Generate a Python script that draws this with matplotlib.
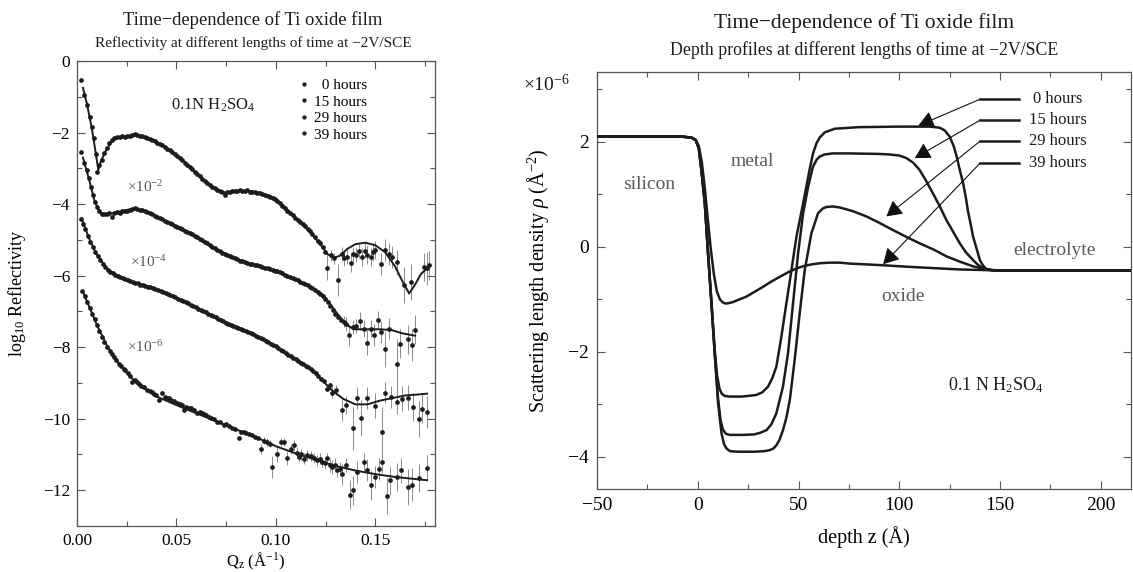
import matplotlib
matplotlib.use("Agg")
import matplotlib.pyplot as plt
from matplotlib.ticker import MultipleLocator, FormatStrFormatter

plt.rcParams['font.family'] = ['Liberation Serif', 'DejaVu Serif']
plt.rcParams['mathtext.fontset'] = 'custom'
plt.rcParams['mathtext.rm'] = 'Liberation Serif'
plt.rcParams['mathtext.it'] = 'Liberation Serif:italic'
plt.rcParams['mathtext.bf'] = 'Liberation Serif:bold'

# ---------------- Left panel data: log10 reflectivity vs Qz ----------------
series_labels = ["  0 hours", "15 hours", "29 hours", "39 hours"]
offset_labels = ["", r"$\times$10$^{-2}$", r"$\times$10$^{-4}$", r"$\times$10$^{-6}$"]

q_0h = [0.0020, 0.0037, 0.0050, 0.0064, 0.0075, 0.0084, 0.0094, 0.0102, 0.0113, 0.0126,
        0.0138, 0.0151, 0.0163, 0.0176, 0.0188, 0.0201, 0.0214, 0.0226, 0.0239, 0.0252,
        0.0264, 0.0277, 0.0290, 0.0302, 0.0315, 0.0328, 0.0340, 0.0353, 0.0365, 0.0378,
        0.0391, 0.0403, 0.0416, 0.0428, 0.0441, 0.0454, 0.0466, 0.0479, 0.0491, 0.0504,
        0.0517, 0.0529, 0.0542, 0.0554, 0.0567, 0.0580, 0.0592, 0.0605, 0.0617, 0.0630,
        0.0643, 0.0655, 0.0668, 0.0680, 0.0693, 0.0706, 0.0718, 0.0731, 0.0743, 0.0756,
        0.0769, 0.0781, 0.0794, 0.0806, 0.0819, 0.0832, 0.0844, 0.0857, 0.0869, 0.0882,
        0.0895, 0.0907, 0.0920, 0.0932, 0.0945, 0.0958, 0.0970, 0.0983, 0.0995, 0.1008,
        0.1021, 0.1033, 0.1046, 0.1058, 0.1071, 0.1084, 0.1096, 0.1109, 0.1121, 0.1134,
        0.1147, 0.1159, 0.1172, 0.1184, 0.1197, 0.1210, 0.1222, 0.1235, 0.1248]
r_0h = [-0.53, -0.95, -1.22, -1.56, -1.85, -2.16, -2.60, -3.10, -2.92, -2.77,
        -2.58, -2.44, -2.30, -2.21, -2.16, -2.12, -2.13, -2.10, -2.12, -2.09,
        -2.11, -2.06, -2.04, -2.08, -2.10, -2.11, -2.13, -2.16, -2.18, -2.21,
        -2.23, -2.28, -2.31, -2.36, -2.41, -2.45, -2.50, -2.55, -2.60, -2.66,
        -2.72, -2.78, -2.85, -2.90, -2.96, -3.02, -3.10, -3.16, -3.22, -3.30,
        -3.36, -3.42, -3.47, -3.52, -3.56, -3.60, -3.63, -3.66, -3.75, -3.67,
        -3.66, -3.64, -3.63, -3.64, -3.62, -3.63, -3.64, -3.62, -3.65, -3.66,
        -3.67, -3.69, -3.70, -3.72, -3.74, -3.77, -3.80, -3.83, -3.87, -3.92,
        -3.98, -4.04, -4.10, -4.18, -4.25, -4.31, -4.38, -4.44, -4.50, -4.57,
        -4.62, -4.70, -4.76, -4.85, -4.92, -5.02, -5.10, -5.20, -5.35]
qe_0h = [0.1255, 0.1276, 0.1290, 0.1310, 0.1330, 0.1343, 0.1360, 0.1376, 0.1390, 0.1405,
         0.1420, 0.1435, 0.1450, 0.1460, 0.1477, 0.1490, 0.1500, 0.1530, 0.1550, 0.1570,
         0.1586, 0.1610, 0.1645, 0.1680, 0.1745, 0.1760, 0.1770]
re_0h = [-5.78, -5.43, -5.52, -6.13, -5.40, -5.52, -5.48, -5.65, -5.40, -5.41,
         -5.30, -5.48, -5.30, -5.43, -5.48, -5.35, -5.29, -5.68, -5.29, -5.40,
         -5.48, -5.62, -6.27, -6.17, -5.76, -5.80, -5.71]
ee_0h = [0.35, 0.15, 0.15, 0.45, 0.20, 0.20, 0.20, 0.25, 0.20, 0.20,
         0.20, 0.25, 0.20, 0.25, 0.25, 0.25, 0.25, 0.30, 0.30, 0.30,
         0.30, 0.35, 0.50, 0.50, 0.40, 0.45, 0.40]
qf_0h = [0.003, 0.005, 0.0075, 0.0095, 0.0107, 0.012, 0.015, 0.018, 0.022, 0.027, 0.032,
         0.038, 0.044, 0.050, 0.056, 0.062, 0.068, 0.074, 0.080, 0.086, 0.092, 0.098,
         0.104, 0.110, 0.116, 0.122, 0.126, 0.129, 0.132, 0.136, 0.140, 0.145, 0.150,
         0.155, 0.160, 0.164, 0.167, 0.170, 0.173, 0.176]
rf_0h = [-0.75, -1.20, -1.90, -2.60, -3.05, -2.80, -2.45, -2.22, -2.12, -2.08, -2.10,
         -2.22, -2.40, -2.62, -2.92, -3.25, -3.52, -3.68, -3.66, -3.63, -3.68, -3.80,
         -4.05, -4.40, -4.72, -5.10, -5.40, -5.50, -5.45, -5.25, -5.12, -5.08, -5.15,
         -5.35, -5.75, -6.20, -6.50, -6.25, -5.95, -5.80]

q_15h = [0.0020, 0.0037, 0.0048, 0.0059, 0.0070, 0.0080, 0.0090, 0.0100, 0.0113, 0.0126,
         0.0138, 0.0151, 0.0163, 0.0176, 0.0188, 0.0201, 0.0214, 0.0226, 0.0239, 0.0252,
         0.0264, 0.0277, 0.0290, 0.0302, 0.0315, 0.0328, 0.0340, 0.0353, 0.0365, 0.0378,
         0.0391, 0.0403, 0.0416, 0.0428, 0.0441, 0.0454, 0.0466, 0.0479, 0.0491, 0.0504,
         0.0517, 0.0529, 0.0542, 0.0554, 0.0567, 0.0580, 0.0592, 0.0605, 0.0617, 0.0630,
         0.0643, 0.0655, 0.0668, 0.0680, 0.0693, 0.0706, 0.0718, 0.0731, 0.0743, 0.0756,
         0.0769, 0.0781, 0.0794, 0.0806, 0.0819, 0.0832, 0.0844, 0.0857, 0.0869, 0.0882,
         0.0895, 0.0907, 0.0920, 0.0932, 0.0945, 0.0958, 0.0970, 0.0983, 0.0995, 0.1008,
         0.1021, 0.1033, 0.1046, 0.1058, 0.1071, 0.1084, 0.1096, 0.1109, 0.1121, 0.1134,
         0.1147, 0.1159, 0.1172, 0.1184, 0.1197, 0.1210, 0.1222, 0.1235, 0.1248, 0.1260,
         0.1272, 0.1285, 0.1297, 0.1310, 0.1325]
r_15h = [-2.54, -2.86, -3.05, -3.28, -3.52, -3.75, -3.93, -4.07, -4.20, -4.29,
         -4.27, -4.29, -4.26, -4.36, -4.25, -4.23, -4.24, -4.20, -4.20, -4.18,
         -4.17, -4.15, -4.10, -4.15, -4.17, -4.16, -4.20, -4.23, -4.26, -4.29,
         -4.32, -4.36, -4.39, -4.42, -4.46, -4.49, -4.52, -4.56, -4.60, -4.63,
         -4.67, -4.71, -4.74, -4.78, -4.81, -4.85, -4.88, -4.93, -4.97, -5.01,
         -5.05, -5.10, -5.14, -5.19, -5.24, -5.29, -5.32, -5.36, -5.40, -5.43,
         -5.46, -5.49, -5.51, -5.54, -5.58, -5.60, -5.63, -5.66, -5.67, -5.68,
         -5.70, -5.71, -5.74, -5.76, -5.78, -5.80, -5.82, -5.84, -5.86, -5.88,
         -5.91, -5.94, -5.97, -6.00, -6.03, -6.07, -6.10, -6.13, -6.17, -6.20,
         -6.24, -6.27, -6.31, -6.35, -6.40, -6.45, -6.52, -6.58, -6.64, -6.75,
         -6.85, -6.97, -7.08, -7.15, -7.25]
qe_15h = [0.1343, 0.1355, 0.1368, 0.1390, 0.1405, 0.1423, 0.1443, 0.1460, 0.1477, 0.1494,
          0.1514, 0.1530, 0.1550, 0.1570, 0.1608, 0.1625, 0.1665, 0.1683, 0.1700]
re_15h = [-7.29, -7.35, -7.66, -7.43, -7.40, -7.27, -7.48, -7.87, -7.48, -7.66,
          -7.25, -7.57, -8.06, -7.48, -8.46, -7.90, -7.78, -7.95, -7.51]
ee_15h = [0.15, 0.20, 0.30, 0.20, 0.20, 0.25, 0.25, 0.35, 0.25, 0.30,
          0.25, 0.30, 0.50, 0.30, 0.70, 0.40, 0.40, 0.45, 0.40]
qf_15h = [0.003, 0.006, 0.009, 0.012, 0.016, 0.022, 0.028, 0.033, 0.040, 0.050, 0.060,
          0.070, 0.080, 0.090, 0.100, 0.110, 0.118, 0.124, 0.130, 0.135, 0.139, 0.145,
          0.152, 0.158, 0.164, 0.170]
rf_15h = [-2.70, -3.30, -3.95, -4.27, -4.28, -4.20, -4.13, -4.17, -4.34, -4.62, -4.93,
          -5.27, -5.53, -5.72, -5.88, -6.12, -6.33, -6.55, -7.00, -7.35, -7.50, -7.50,
          -7.50, -7.52, -7.62, -7.68]

q_29h = [0.0020, 0.0030, 0.0042, 0.0055, 0.0067, 0.0080, 0.0092, 0.0105, 0.0117, 0.0130,
         0.0143, 0.0155, 0.0168, 0.0180, 0.0193, 0.0205, 0.0218, 0.0231, 0.0243, 0.0256,
         0.0268, 0.0281, 0.0294, 0.0306, 0.0319, 0.0331, 0.0344, 0.0356, 0.0369, 0.0382,
         0.0394, 0.0407, 0.0420, 0.0432, 0.0445, 0.0457, 0.0470, 0.0483, 0.0495, 0.0508,
         0.0521, 0.0533, 0.0546, 0.0558, 0.0571, 0.0584, 0.0596, 0.0609, 0.0621, 0.0634,
         0.0647, 0.0659, 0.0672, 0.0684, 0.0697, 0.0710, 0.0722, 0.0735, 0.0747, 0.0760,
         0.0772, 0.0785, 0.0798, 0.0810, 0.0823, 0.0835, 0.0848, 0.0861, 0.0873, 0.0886,
         0.0898, 0.0911, 0.0924, 0.0936, 0.0949, 0.0961, 0.0974, 0.0987, 0.0999, 0.1012,
         0.1024, 0.1037, 0.1050, 0.1062, 0.1075, 0.1088, 0.1100, 0.1113, 0.1125, 0.1138,
         0.1151, 0.1163, 0.1176, 0.1188, 0.1201, 0.1214, 0.1226, 0.1240, 0.1259, 0.1272]
r_29h = [-4.42, -4.55, -4.69, -4.88, -5.05, -5.20, -5.33, -5.46, -5.57, -5.67,
         -5.75, -5.83, -5.89, -5.94, -5.98, -6.01, -6.03, -6.07, -6.10, -6.13,
         -6.15, -6.17, -6.20, -6.22, -6.25, -6.27, -6.29, -6.31, -6.32, -6.35,
         -6.37, -6.40, -6.43, -6.45, -6.48, -6.50, -6.54, -6.57, -6.61, -6.64,
         -6.67, -6.70, -6.73, -6.77, -6.83, -6.85, -6.88, -6.92, -6.96, -7.00,
         -7.03, -7.07, -7.10, -7.14, -7.17, -7.21, -7.25, -7.28, -7.32, -7.35,
         -7.37, -7.41, -7.43, -7.46, -7.49, -7.52, -7.55, -7.58, -7.61, -7.64,
         -7.68, -7.71, -7.75, -7.78, -7.82, -7.86, -7.90, -7.94, -7.98, -8.03,
         -8.07, -8.12, -8.16, -8.21, -8.26, -8.30, -8.34, -8.39, -8.43, -8.48,
         -8.52, -8.56, -8.60, -8.66, -8.72, -8.80, -8.88, -8.95, -9.16, -9.05]
qe_29h = [0.1284, 0.1300, 0.1334, 0.1351, 0.1390, 0.1406, 0.1427, 0.1460, 0.1500, 0.1536,
          0.1550, 0.1578, 0.1611, 0.1636, 0.1665, 0.1687, 0.1720, 0.1737, 0.1762]
re_29h = [-9.27, -9.20, -9.76, -9.62, -10.27, -9.42, -9.98, -9.42, -9.64, -10.37,
          -9.27, -9.39, -9.53, -9.44, -9.42, -9.67, -10.00, -9.72, -9.81]
ee_29h = [0.15, 0.15, 0.30, 0.25, 0.60, 0.30, 0.50, 0.30, 0.35, 0.70,
          0.30, 0.30, 0.35, 0.35, 0.35, 0.40, 0.50, 0.40, 0.45]
qf_29h = [0.003, 0.006, 0.010, 0.015, 0.020, 0.028, 0.036, 0.045, 0.055, 0.065, 0.075,
          0.085, 0.095, 0.105, 0.115, 0.122, 0.128, 0.134, 0.140, 0.146, 0.152, 0.158,
          0.165, 0.170, 0.176]
rf_29h = [-4.50, -4.95, -5.42, -5.80, -6.00, -6.18, -6.30, -6.50, -6.75, -7.05, -7.30,
          -7.55, -7.80, -8.17, -8.50, -8.85, -9.20, -9.45, -9.60, -9.60, -9.50, -9.43,
          -9.35, -9.33, -9.30]

q_39h = [0.0025, 0.0038, 0.0050, 0.0063, 0.0076, 0.0088, 0.0100, 0.0113, 0.0126, 0.0138,
         0.0151, 0.0164, 0.0176, 0.0185, 0.0197, 0.0210, 0.0222, 0.0235, 0.0243, 0.0256,
         0.0268, 0.0277, 0.0290, 0.0302, 0.0310, 0.0323, 0.0335, 0.0352, 0.0365, 0.0377,
         0.0386, 0.0398, 0.0411, 0.0428, 0.0440, 0.0450, 0.0462, 0.0475, 0.0487, 0.0504,
         0.0516, 0.0528, 0.0537, 0.0550, 0.0563, 0.0571, 0.0588, 0.0604, 0.0617, 0.0630,
         0.0638, 0.0651, 0.0663, 0.0676, 0.0688, 0.0705, 0.0718, 0.0738, 0.0750, 0.0763,
         0.0780, 0.0795, 0.0814, 0.0826, 0.0839, 0.0852, 0.0865, 0.0881, 0.0895, 0.0908]
r_39h = [-6.43, -6.58, -6.73, -6.90, -7.06, -7.22, -7.38, -7.55, -7.71, -7.85,
         -7.99, -8.10, -8.20, -8.27, -8.36, -8.46, -8.53, -8.60, -8.64, -8.72,
         -8.80, -8.97, -8.93, -8.98, -9.04, -9.08, -9.12, -9.20, -9.22, -9.26,
         -9.30, -9.33, -9.48, -9.27, -9.40, -9.42, -9.43, -9.47, -9.50, -9.57,
         -9.60, -9.62, -9.76, -9.67, -9.69, -9.71, -9.75, -9.85, -9.82, -9.85,
         -9.88, -9.90, -9.94, -9.97, -10.02, -10.09, -10.08, -10.18, -10.15, -10.20,
         -10.27, -10.30, -10.53, -10.36, -10.37, -10.40, -10.42, -10.46, -10.50, -10.55]
qe_39h = [0.0923, 0.0940, 0.0957, 0.0970, 0.0982, 0.1004, 0.1024, 0.1040, 0.1057, 0.1075,
          0.1091, 0.1105, 0.1116, 0.1128, 0.1141, 0.1155, 0.1175, 0.1190, 0.1208, 0.1222,
          0.1234, 0.1245, 0.1259, 0.1272, 0.1284, 0.1297, 0.1309, 0.1322, 0.1334, 0.1351,
          0.1373, 0.1390, 0.1410, 0.1443, 0.1460, 0.1480, 0.1500, 0.1519, 0.1536, 0.1558,
          0.1573, 0.1611, 0.1628, 0.1665, 0.1683, 0.1720, 0.1759]
re_39h = [-10.85, -10.62, -10.65, -10.70, -11.35, -11.00, -10.65, -10.65, -11.10, -10.85,
          -10.74, -10.95, -11.07, -11.00, -11.12, -11.02, -11.04, -11.10, -11.16, -11.12,
          -11.21, -11.25, -11.10, -11.30, -11.35, -11.30, -11.44, -11.40, -11.56, -11.30,
          -12.12, -12.00, -11.49, -11.21, -11.44, -11.86, -11.63, -11.40, -11.21, -12.16,
          -11.72, -11.63, -11.44, -11.91, -11.84, -11.66, -11.37]
ee_39h = [0.15, 0.10, 0.10, 0.10, 0.30, 0.20, 0.10, 0.10, 0.20, 0.15,
          0.15, 0.15, 0.15, 0.15, 0.15, 0.15, 0.15, 0.15, 0.15, 0.15,
          0.15, 0.15, 0.15, 0.20, 0.20, 0.20, 0.20, 0.20, 0.30, 0.20,
          0.40, 0.40, 0.30, 0.25, 0.30, 0.40, 0.30, 0.30, 0.30, 0.50,
          0.40, 0.40, 0.35, 0.50, 0.45, 0.40, 0.35]
qf_39h = [0.003, 0.006, 0.010, 0.015, 0.020, 0.025, 0.030, 0.035, 0.040, 0.050, 0.060,
          0.070, 0.080, 0.090, 0.100, 0.110, 0.120, 0.130, 0.140, 0.150, 0.160, 0.176]
rf_39h = [-6.45, -6.85, -7.38, -7.95, -8.38, -8.72, -9.00, -9.20, -9.38, -9.62, -9.85,
          -10.07, -10.30, -10.52, -10.77, -10.97, -11.15, -11.32, -11.45, -11.55, -11.63,
          -11.72]

# ---------------- Right panel data: SLD depth profiles ----------------
z_0h = [-50, -8, -3, -1, 0.5, 1.8, 3.5, 5.1, 6.8, 8.4, 9.6, 10.8, 12, 13.5, 15.9, 22, 29,
        32, 34.9, 37, 39, 41.5, 44, 46.5, 49, 52.3, 55.5, 57.2, 59, 60.5, 63, 68, 80, 100,
        115, 120, 122.5, 125, 127, 128.5, 130, 131.7, 133, 134, 135.5, 136.6, 138.5, 140,
        141.5, 143, 146, 150, 170, 215]
rho_0h = [2.10, 2.10, 2.08, 2.03, 1.88, 1.47, 0.83, -0.12, -1.07, -1.95, -2.45, -2.70,
          -2.80, -2.84, -2.85, -2.85, -2.82, -2.77, -2.66, -2.50, -2.28, -1.71, -1.07,
          -0.44, 0.20, 0.83, 1.47, 1.78, 1.98, 2.08, 2.18, 2.25, 2.28, 2.29, 2.29, 2.27,
          2.22, 2.10, 1.92, 1.72, 1.47, 1.21, 0.95, 0.70, 0.42, 0.20, -0.05, -0.25, -0.35,
          -0.42, -0.445, -0.45, -0.45, -0.45]
z_15h = [-50, -8, -3, -1, 0.5, 1.8, 3.5, 5.1, 6.8, 8.4, 10.1, 11.3, 12.5, 14, 16, 22, 28,
         31, 34.1, 36.5, 39, 42.3, 44.8, 47.3, 49.8, 52.3, 54.8, 57.2, 59, 60.5, 63, 67, 75,
         90, 95, 100, 103.6, 107, 110, 113, 116.7, 120, 123.4, 127, 130, 133, 136.6, 139,
         141, 143, 146, 150, 170, 215]
rho_15h = [2.10, 2.10, 2.08, 2.03, 1.88, 1.47, 0.83, -0.12, -1.07, -2.02, -2.90, -3.30,
           -3.48, -3.56, -3.58, -3.58, -3.57, -3.54, -3.49, -3.38, -3.17, -2.66, -2.02,
           -1.07, -0.12, 0.64, 1.15, 1.53, 1.66, 1.72, 1.76, 1.78, 1.78, 1.77, 1.76, 1.74,
           1.69, 1.60, 1.47, 1.28, 1.02, 0.78, 0.51, 0.27, 0.07, -0.10, -0.25, -0.34, -0.39,
           -0.42, -0.44, -0.45, -0.45, -0.45]
z_29h = [-50, -8, -3, -1, 0.5, 1.8, 3.5, 5.1, 6.8, 8.4, 10.1, 11.8, 13, 14.3, 16, 20, 28,
         33, 35.7, 37.5, 39, 40.5, 42.3, 44, 45.7, 48.1, 50.6, 53.1, 56.4, 59.7, 62, 63.9,
         67, 70.5, 77, 83.7, 90, 96.9, 103, 110, 117, 123.4, 130, 136.6, 141, 145, 150, 170,
         215]
rho_29h = [2.10, 2.10, 2.08, 2.03, 1.88, 1.47, 0.83, -0.12, -1.07, -2.02, -2.98, -3.55,
           -3.75, -3.84, -3.89, -3.90, -3.90, -3.89, -3.87, -3.84, -3.78, -3.68, -3.49,
           -3.25, -2.91, -2.15, -1.26, -0.44, 0.26, 0.64, 0.73, 0.76, 0.77, 0.75, 0.68,
           0.58, 0.46, 0.32, 0.20, 0.07, -0.05, -0.18, -0.28, -0.37, -0.41, -0.44, -0.45,
           -0.45, -0.45]
z_39h = [-50, -8, -3, -1, 0.5, 2, 3.5, 5, 6.5, 8, 9.5, 11, 12.5, 14, 15.5, 17.5, 20, 24,
         28, 32.4, 36.5, 40.7, 45, 49, 53, 57, 61, 65.5, 70.5, 76, 82, 92, 105, 120, 130,
         141, 150, 170, 215]
rho_39h = [2.10, 2.10, 2.08, 2.04, 1.92, 1.62, 1.12, 0.52, -0.05, -0.52, -0.85, -1.00,
           -1.06, -1.08, -1.07, -1.05, -1.01, -0.95, -0.86, -0.76, -0.66, -0.57, -0.48,
           -0.41, -0.36, -0.33, -0.31, -0.30, -0.30, -0.32, -0.33, -0.35, -0.38, -0.41,
           -0.43, -0.44, -0.45, -0.45, -0.45]

profile_labels = ["0 hours", "15 hours", "29 hours", "39 hours"]
label_y = [2.81, 2.41, 2.01, 1.59]
arrow_tip_z = [109.5, 107.7, 93.6, 92.0]
arrow_tip_rho = [2.31, 1.69, 0.58, -0.33]

region_labels = ["silicon", "metal", "electrolyte", "oxide"]
region_z = [-24, 27, 177, 102]
region_rho = [1.18, 1.62, -0.06, -0.95]

# ---------------- Figure ----------------
W, H = 1133, 572
fig = plt.figure(figsize=(W / 100, H / 100), dpi=100)
ink = '#1c1c1c'
gray = '#5a5a5a'

def style_axes(ax, tick_size, pad):
    for s in ax.spines.values():
        s.set_color('#555555')
        s.set_linewidth(0.9)
    ax.tick_params(which='both', direction='in', top=True, right=True,
                   color='#555555', width=0.8, labelsize=tick_size, pad=pad)
    ax.tick_params(which='major', length=6)
    ax.tick_params(which='minor', length=3.5)

# Left axes
ax1 = fig.add_axes([77 / W, 1 - 526 / H, 358 / W, 465 / H])
style_axes(ax1, 12.5, 5)

q_dense = [q_0h, q_15h, q_29h, q_39h]
r_dense = [r_0h, r_15h, r_29h, r_39h]
q_err = [qe_0h, qe_15h, qe_29h, qe_39h]
r_err = [re_0h, re_15h, re_29h, re_39h]
e_err = [ee_0h, ee_15h, ee_29h, ee_39h]
q_fit = [qf_0h, qf_15h, qf_29h, qf_39h]
r_fit = [rf_0h, rf_15h, rf_29h, rf_39h]

for i in range(4):
    ax1.errorbar(q_err[i], r_err[i], yerr=e_err[i], fmt='none', ecolor='#8a8a8a',
                 elinewidth=0.7, capsize=0, zorder=2)
    ax1.plot(q_fit[i], r_fit[i], color=ink, lw=1.4, zorder=3)
    ax1.plot(q_dense[i] + q_err[i], r_dense[i] + r_err[i], 'o', ms=3.4, color=ink,
             mec='none', zorder=4, label=series_labels[i])

ax1.set_xlim(0, 0.18)
ax1.set_ylim(-13, 0)
ax1.xaxis.set_major_locator(MultipleLocator(0.05))
ax1.xaxis.set_minor_locator(MultipleLocator(0.025))
ax1.xaxis.set_major_formatter(FormatStrFormatter('%.2f'))
ax1.yaxis.set_major_locator(MultipleLocator(2))
ax1.yaxis.set_minor_locator(MultipleLocator(1))
ax1.set_xlabel(r'Q$_\mathrm{z}$ ($\mathrm{\AA}^{-1}$)', fontsize=12)
ax1.xaxis.set_label_coords(0.5, -0.054)
ax1.set_ylabel(r'log$_{10}$ Reflectivity', fontsize=13)
ax1.yaxis.set_label_coords(-0.137, 0.5)

leg = ax1.legend(loc='upper left', bbox_to_anchor=(0.625, 0.962), frameon=False,
                 fontsize=11, handlelength=0.4, handletextpad=0.5, labelspacing=0.18,
                 borderpad=0, borderaxespad=0, markerscale=0.9)

ax1.text(0.0684, -1.23, r'0.1N H$_2$SO$_4$', fontsize=12, ha='center', va='center', color=ink)
offset_pos_q = [0, 0.025, 0.0265, 0.025]
offset_pos_r = [0, -3.52, -5.61, -7.99]
for i in range(1, 4):
    ax1.text(offset_pos_q[i], offset_pos_r[i], offset_labels[i], fontsize=11,
             ha='left', va='center', color=gray)

fig.text(253 / W, 1 - 20 / H, 'Time\u2212dependence of Ti oxide film', fontsize=13.4,
         ha='center', va='center', color=ink)
fig.text(253 / W, 1 - 43 / H, 'Reflectivity at different lengths of time at \u22122V/SCE',
         fontsize=11, ha='center', va='center', color=ink)

# Right axes
ax2 = fig.add_axes([597 / W, 1 - 489 / H, 534 / W, 417 / H])
style_axes(ax2, 14, 6)
zs = [z_0h, z_15h, z_29h, z_39h]
rhos = [rho_0h, rho_15h, rho_29h, rho_39h]
for i in range(4):
    ax2.plot(zs[i], rhos[i], color=ink, lw=1.8, zorder=3)

ax2.set_xlim(-50, 215)
ax2.set_ylim(-4.61, 3.33)
ax2.xaxis.set_major_locator(MultipleLocator(50))
ax2.xaxis.set_minor_locator(MultipleLocator(25))
ax2.yaxis.set_major_locator(MultipleLocator(2))
ax2.yaxis.set_minor_locator(MultipleLocator(1))
ax2.set_xlabel('depth z (\u00c5)', fontsize=14.5)
ax2.xaxis.set_label_coords(0.5, -0.09)
ax2.set_ylabel(r'Scattering length density $\rho$ ($\mathrm{\AA}^{-2}$)', fontsize=14.5)
ax2.yaxis.set_label_coords(-0.086, 0.5)

for i in range(4):
    ax2.plot([140, 159.5], [label_y[i], label_y[i]], color=ink, lw=1.8, zorder=3)
    ax2.annotate('', xy=(arrow_tip_z[i], arrow_tip_rho[i]), xytext=(140, label_y[i]),
                 arrowprops=dict(arrowstyle='-|>,head_length=0.5,head_width=0.28',
                                 color='#111111', lw=0.8,
                                 mutation_scale=19, shrinkA=0, shrinkB=0), zorder=4)
    ax2.text(178.7, label_y[i], profile_labels[i], fontsize=12, ha='center',
             va='center', color=ink)

for i in range(4):
    ax2.text(region_z[i], region_rho[i], region_labels[i], fontsize=14, ha='center',
             va='center', color=gray)
ax2.text(148, -2.63, r'0.1 N H$_2$SO$_4$', fontsize=13, ha='center', va='center', color=ink)

fig.text(523 / W, 1 - 85 / H, r'$\times$10$^{-6}$', fontsize=14, ha='left', va='center',
         color=ink)
fig.text(864 / W, 1 - 23 / H, 'Time\u2212dependence of Ti oxide film', fontsize=15.5,
         ha='center', va='center', color=ink)
fig.text(864 / W, 1 - 50 / H, 'Depth profiles at different lengths of time at \u22122V/SCE',
         fontsize=12.8, ha='center', va='center', color=ink)

fig.savefig('out.png', dpi=100)
